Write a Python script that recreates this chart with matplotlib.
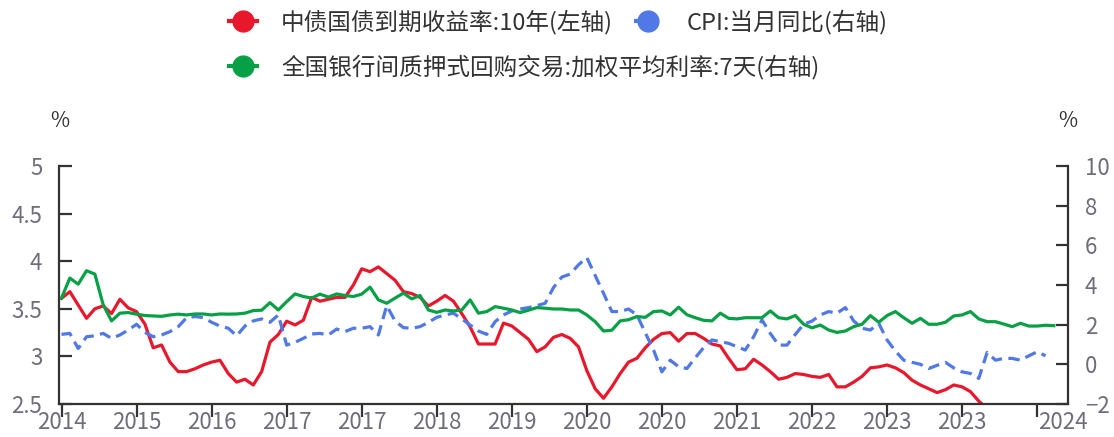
import numpy as np
import matplotlib.pyplot as plt
from matplotlib.lines import Line2D

plt.rcParams['font.family'] = ['Noto Sans CJK SC', 'DejaVu Sans']

# 中债国债到期收益率:10年 (left axis, %)
yield_10y = [3.61, 3.68, 3.54, 3.40, 3.50, 3.53, 3.45, 3.60, 3.51, 3.47,
             3.34, 3.09, 3.12, 2.94, 2.84, 2.84, 2.87, 2.91, 2.94, 2.96,
             2.82, 2.73, 2.76, 2.70, 2.84, 3.15, 3.23, 3.37, 3.33, 3.38,
             3.62, 3.58, 3.60, 3.62, 3.62, 3.75, 3.92, 3.89, 3.94, 3.87,
             3.80, 3.68, 3.66, 3.62, 3.53, 3.58, 3.64, 3.58, 3.45, 3.31,
             3.13, 3.13, 3.13, 3.35, 3.32, 3.25, 3.18, 3.05, 3.10, 3.20,
             3.23, 3.19, 3.10, 2.85, 2.66, 2.56, 2.68, 2.82, 2.94, 2.98,
             3.09, 3.18, 3.24, 3.25, 3.16, 3.24, 3.24, 3.19, 3.13, 3.11,
             2.98, 2.86, 2.87, 2.97, 2.91, 2.84, 2.76, 2.78, 2.82, 2.81,
             2.79, 2.78, 2.81, 2.68, 2.68, 2.73, 2.79, 2.88, 2.89, 2.91,
             2.88, 2.83, 2.75, 2.70, 2.66, 2.62, 2.65, 2.70, 2.68, 2.63,
             2.53, 2.45, 2.40]

# CPI:当月同比 (right axis, %)
cpi_yoy = [1.51, 1.56, 0.80, 1.39, 1.44, 1.56, 1.31, 1.48, 1.73, 2.02,
           1.61, 1.39, 1.48, 1.65, 1.90, 2.35, 2.41, 2.36, 2.12, 1.93,
           1.82, 1.44, 1.93, 2.19, 2.29, 2.12, 2.49, 0.97, 1.11, 1.31,
           1.53, 1.56, 1.48, 1.78, 1.65, 1.82, 1.82, 1.90, 1.48, 2.96,
           2.19, 1.85, 1.82, 1.90, 2.12, 2.37, 2.49, 2.58, 2.29, 1.98,
           1.68, 1.51, 2.15, 2.49, 2.69, 2.79, 2.86, 2.96, 3.08, 3.87,
           4.40, 4.55, 5.02, 5.38, 4.48, 3.58, 2.66, 2.66, 2.79, 2.49,
           1.60, 0.72, -0.38, 0.21, -0.12, -0.21, 0.33, 0.84, 1.23, 1.14,
           1.06, 0.89, 0.72, 1.39, 2.24, 1.56, 0.97, 0.97, 1.51, 2.02,
           2.18, 2.49, 2.66, 2.58, 2.86, 2.19, 1.82, 1.73, 2.07, 1.23,
           0.67, 0.21, 0.10, 0.00, -0.21, -0.05, 0.10, -0.18, -0.38, -0.46,
           -0.71, 0.60, 0.21, 0.30, 0.30, 0.21, 0.43, 0.63, 0.43]

# 全国银行间质押式回购交易:加权平均利率:7天 (right axis, %)
repo_7d = [3.34, 4.35, 4.04, 4.72, 4.55, 3.00, 2.19, 2.58, 2.61, 2.53,
           2.46, 2.44, 2.42, 2.49, 2.53, 2.49, 2.54, 2.54, 2.49, 2.54,
           2.53, 2.54, 2.58, 2.71, 2.73, 3.11, 2.74, 3.16, 3.55, 3.42,
           3.34, 3.54, 3.39, 3.55, 3.47, 3.42, 3.54, 3.89, 3.25, 3.08,
           3.34, 3.59, 3.30, 3.47, 2.74, 2.62, 2.74, 2.69, 2.74, 3.25,
           2.58, 2.66, 2.91, 2.83, 2.74, 2.61, 2.73, 2.86, 2.83, 2.79,
           2.79, 2.74, 2.74, 2.49, 2.15, 1.68, 1.72, 2.19, 2.25, 2.41,
           2.37, 2.66, 2.69, 2.49, 2.88, 2.50, 2.35, 2.22, 2.19, 2.58,
           2.32, 2.29, 2.35, 2.35, 2.35, 2.69, 2.35, 2.29, 2.46, 2.02,
           1.84, 1.98, 1.73, 1.61, 1.68, 1.90, 2.02, 2.46, 2.12, 2.46,
           2.66, 2.35, 2.07, 2.32, 2.02, 2.02, 2.12, 2.44, 2.49, 2.66,
           2.29, 2.15, 2.15, 2.03, 1.90, 2.07, 1.93, 1.93, 1.97, 1.95]

tick_labels = ["2014", "2015", "2016", "2017", "2017", "2018", "2019",
               "2020", "2020", "2021", "2022", "2023", "2023", ""]
last_label = "2024"

left_ticks = [2.5, 3, 3.5, 4, 4.5, 5]
left_tick_labels = ["2.5", "3", "3.5", "4", "4.5", "5"]
right_ticks = [-2, 0, 2, 4, 6, 8, 10]

name_yield = "中债国债到期收益率:10年(左轴)"
name_cpi = "CPI:当月同比(右轴)"
name_repo = "全国银行间质押式回购交易:加权平均利率:7天(右轴)"

red = "#E8182C"
blue = "#5078E6"
green = "#08A046"
axis_c = "#333333"
label_c = "#6E6E7A"

fig = plt.figure(figsize=(11.14, 4.37), dpi=100)
ax1 = fig.add_axes([59 / 1114, 1 - 404 / 437, (1068 - 59) / 1114, 238 / 437])
ax2 = ax1.twinx()

ax1.plot(np.arange(len(yield_10y)), yield_10y, color=red, lw=2.3, solid_joinstyle="round")
ax2.plot(np.arange(len(cpi_yoy)), cpi_yoy, color=blue, lw=2.3, dashes=(3.6, 2.0))
ax2.plot(np.arange(len(repo_7d)), repo_7d, color=green, lw=2.3, solid_joinstyle="round")

ax1.set_xlim(-0.3, 120.7)
ax1.set_ylim(2.5, 5)
ax2.set_ylim(-2, 10)

ax1.set_yticks(left_ticks, left_tick_labels)
ax2.set_yticks(right_ticks)

ax1.set_xticks(np.arange(len(tick_labels)) * 9, tick_labels)
ax1.set_xticks([120.1], [last_label], minor=True)

for ax in (ax1, ax2):
    ax.spines["top"].set_visible(False)
    for s in ax.spines.values():
        s.set_color(axis_c)
        s.set_linewidth(1.6)
ax2.spines["left"].set_visible(False)
ax2.spines["bottom"].set_visible(False)
ax1.spines["right"].set_visible(False)

ax1.tick_params(axis="y", direction="in", length=9, width=1.6, color=axis_c,
                labelcolor=label_c, labelsize=16, pad=12)
ax2.tick_params(axis="y", direction="in", length=9, width=1.6, color=axis_c,
                labelcolor=label_c, labelsize=16, pad=12)
ax1.tick_params(axis="x", which="major", direction="out", length=9, width=1.6,
                color=axis_c, labelcolor=label_c, labelsize=16, pad=-4)
ax1.tick_params(axis="x", which="minor", length=0, labelcolor=label_c,
                labelsize=16, pad=5)

fig.text(60 / 1114, 1 - 121 / 437, "%", ha="center", va="center", fontsize=15, color=axis_c)
fig.text(1068 / 1114, 1 - 121 / 437, "%", ha="center", va="center", fontsize=15, color=axis_c)

h_red = Line2D([], [], color=red, lw=3, marker="o", markersize=15)
h_blue = Line2D([], [], color=blue, lw=3, ls=(0, (2.5, 1)), marker="o", markersize=15)
h_green = Line2D([], [], color=green, lw=3, marker="o", markersize=15)

leg_kw = dict(frameon=False, fontsize=17, borderpad=0, borderaxespad=0,
              handlelength=1.2, handletextpad=1.0, labelcolor="#333333")
fig.legend([h_red, h_blue], [name_yield, name_cpi], ncol=2, columnspacing=0.9,
           loc="center left", bbox_to_anchor=(229 / 1114, 1 - 22 / 437), **leg_kw)
fig.legend([h_green], [name_repo], loc="center left",
           bbox_to_anchor=(229 / 1114, 1 - 67 / 437), **leg_kw)

fig.savefig("out.png", dpi=100)
